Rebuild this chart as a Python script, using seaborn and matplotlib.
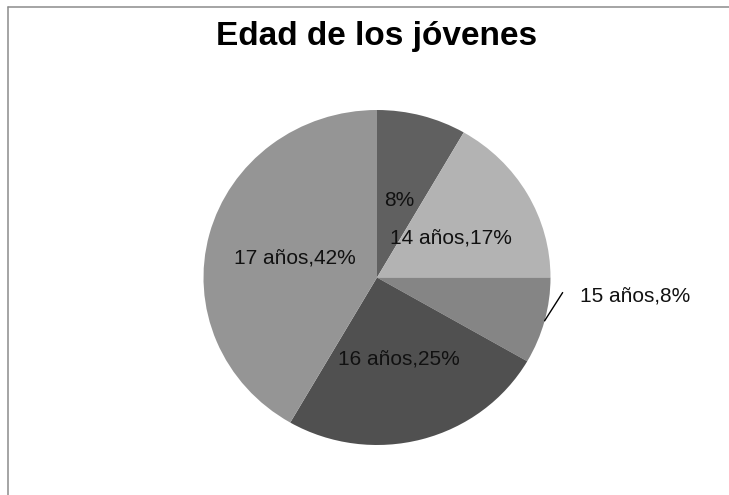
import matplotlib
matplotlib.use("Agg")
import matplotlib.pyplot as plt
import numpy as np
import seaborn as sns
from matplotlib.lines import Line2D

sns.set_theme(style="white")
plt.rcParams['font.family'] = ['Liberation Sans', 'DejaVu Sans']

# datos del grafico
titulo = "Edad de los jóvenes"
edades = ["", "14 años", "15 años", "16 años", "17 años"]
jovenes = [1, 2, 1, 3, 5]
colores = ["#606060", "#b3b3b3", "#858585", "#505050", "#959595"]

total = sum(jovenes)
etiquetas = []
for edad, n in zip(edades, jovenes):
    pct = round(n / total * 100)
    etiquetas.append(f"{edad},{pct}%" if edad else f"{pct}%")

fig = plt.figure(figsize=(7.29, 4.95), dpi=100)

# marco gris del area del grafico (solo arriba e izquierda)
x0, y0 = 8 / 729, 1 - 6.5 / 495
fig.add_artist(Line2D([x0, 1.0], [y0, y0], transform=fig.transFigure,
                      color="#8c8c8c", lw=1.1))
fig.add_artist(Line2D([x0, x0], [0.0, y0], transform=fig.transFigure,
                      color="#8c8c8c", lw=1.1))

fig.text(377 / 729, 1 - 45 / 495, titulo, ha="center", va="baseline",
         fontsize=24, fontweight="bold", color="black")

ax = fig.add_axes([203.5 / 729, 50 / 495, 347 / 729, 335 / 495])
wedges, _ = ax.pie(jovenes, colors=colores, startangle=90, counterclock=False,
                   radius=1, wedgeprops=dict(linewidth=0))
ax.set_aspect("auto")
ax.set_xlim(-1, 1)
ax.set_ylim(-1, 1)
ax.axis("off")

# etiquetas dentro de cada sector, la de 15 años va fuera con linea guia
fuera = 2
pos_fuera = (1.17, -0.10)
guia = (1.07, -0.09)
for i, w in enumerate(wedges):
    ang = np.deg2rad((w.theta1 + w.theta2) / 2)
    x, y = np.cos(ang), np.sin(ang)
    if i == fuera:
        ax.plot([x, guia[0]], [y, guia[1]], color="black", lw=1, clip_on=False)
        ax.text(pos_fuera[0], pos_fuera[1], etiquetas[i], ha="left",
                va="center_baseline", fontsize=15, color="#111111")
    else:
        ax.text(0.49 * x, 0.49 * y, etiquetas[i], ha="center",
                va="center_baseline", fontsize=15, color="#111111")

plt.savefig("out.png", dpi=100)
plt.close()
